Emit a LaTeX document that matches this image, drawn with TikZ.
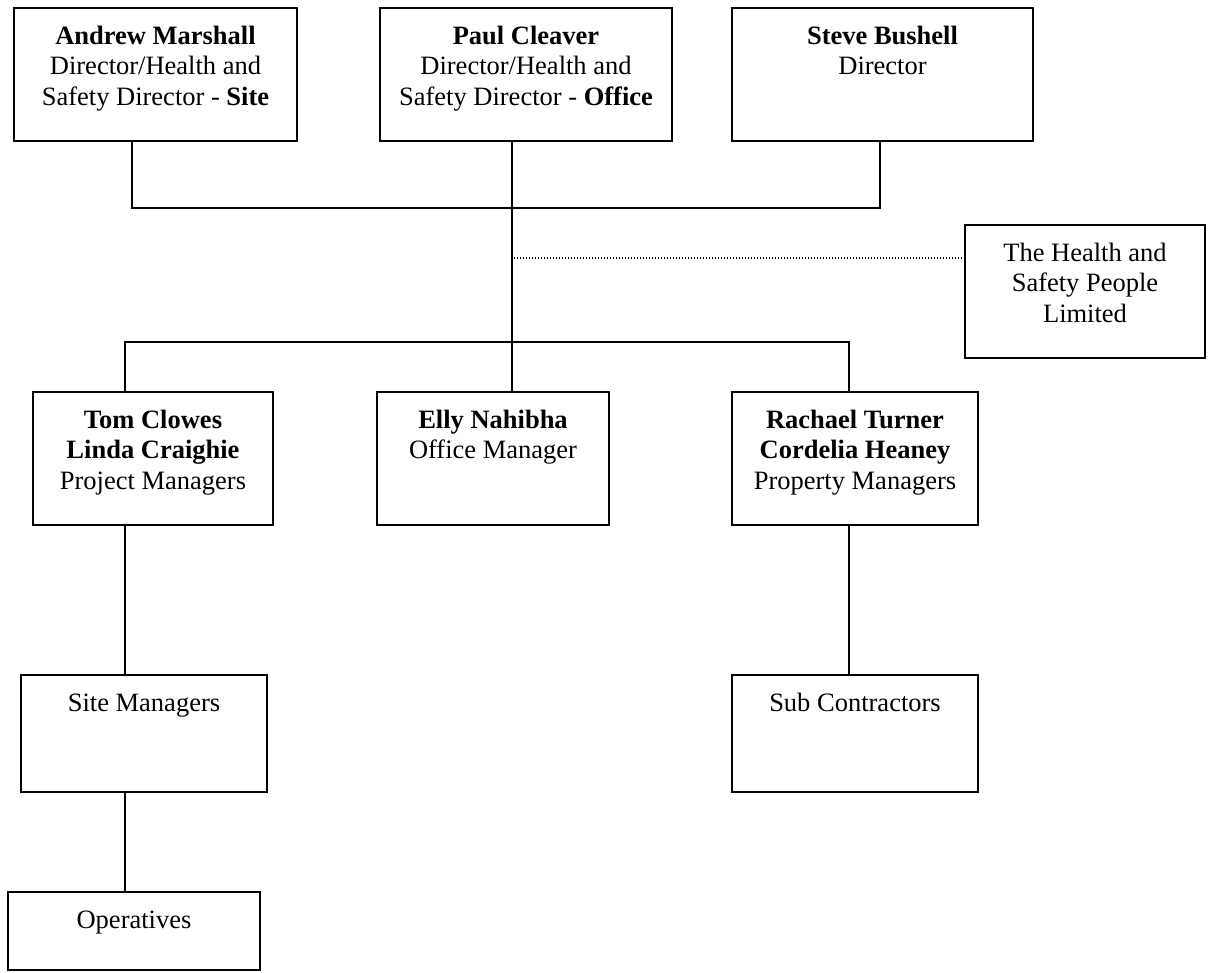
\documentclass[tikz,border=0pt]{standalone}
\usepackage{fontspec}
\setmainfont{Liberation Serif}
\newcommand{\orgbox}[3]{\parbox[t][#2][t]{#1}{\centering\fontsize{26.5pt}{30.5pt}\selectfont\rule{0pt}{36pt}#3\par}}
\tikzset{
  orgnode/.style={draw, line width=1.5pt, inner sep=0pt, outer sep=0pt, anchor=north west},
  link/.style={line width=1.5pt},
  dotlink/.style={line width=1.3pt, dash pattern=on 1.3pt off 1.7pt}
}
\begin{document}
\begin{tikzpicture}[x=1pt,y=-1pt]
\useasboundingbox (0,0) rectangle (1209,972);
% top row
\node[orgnode] (AM) at (14,8) {\orgbox{283pt}{133pt}{\textbf{Andrew Marshall}\\Director/Health and\\Safety Director - \textbf{Site}}};
\node[orgnode] (PC) at (380,8) {\orgbox{292pt}{133pt}{\textbf{Paul Cleaver}\\Director/Health and\\Safety Director - \textbf{Office}}};
\node[orgnode] (SB) at (732,8) {\orgbox{301pt}{133pt}{\textbf{Steve Bushell}\\Director}};
% consultant
\node[orgnode] (HS) at (965,225) {\orgbox{240pt}{133pt}{The Health and\\Safety People\\Limited}};
% second row
\node[orgnode] (TC) at (33,392) {\orgbox{240pt}{133pt}{\textbf{Tom Clowes}\\\textbf{Linda Craighie}\\Project Managers}};
\node[orgnode] (EN) at (377,392) {\orgbox{232pt}{133pt}{\textbf{Elly Nahibha}\\Office Manager}};
\node[orgnode] (RT) at (732,392) {\orgbox{246pt}{133pt}{\textbf{Rachael Turner}\\\textbf{Cordelia Heaney}\\Property Managers}};
% third row
\node[orgnode] (SM) at (21,675) {\orgbox{246pt}{117pt}{Site Managers}};
\node[orgnode] (SC) at (732,675) {\orgbox{246pt}{117pt}{Sub Contractors}};
% fourth row
\node[orgnode] (OP) at (8,892) {\orgbox{252pt}{78pt}{Operatives}};
% junction coordinates
\coordinate (jl) at (132,208);
\coordinate (jr) at (880,208);
\coordinate (jc) at (512,208);
\coordinate (jd) at (514,258);
\coordinate (kl) at (125,342);
\coordinate (kr) at (849,342);
% connectors
\draw[link] (AM.south west -| jl) -- (jl) -- (jr) -- (SB.south west -| jr);
\draw[link] (PC.south west -| jc) -- (EN.north west -| jc);
\draw[dotlink] (jd) -- (HS.west |- jd);
\draw[link] (TC.north west -| kl) -- (kl) -- (kr) -- (RT.north west -| kr);
\draw[link] (TC.south west -| kl) -- (SM.north west -| kl);
\draw[link] (SM.south west -| kl) -- (OP.north west -| kl);
\draw[link] (RT.south west -| kr) -- (SC.north west -| kr);
\end{tikzpicture}
\end{document}
